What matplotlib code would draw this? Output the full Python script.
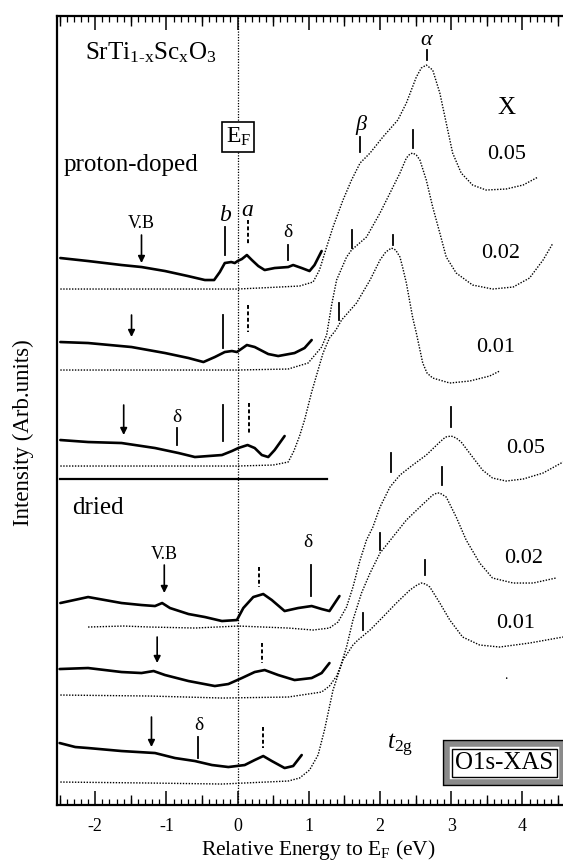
import numpy as np
import matplotlib.pyplot as plt
from matplotlib.ticker import MultipleLocator

plt.rcParams['font.family'] = ['Liberation Serif', 'DejaVu Serif']
plt.rcParams['mathtext.fontset'] = 'custom'
plt.rcParams['mathtext.rm'] = 'Liberation Serif'
plt.rcParams['mathtext.it'] = 'Liberation Serif:italic'
plt.rcParams['axes.unicode_minus'] = False

# ---- proton-doped : valence band (solid) and O1s-XAS (dotted) ----
p05_vb_x = [-2.49, -2.10, -1.63, -1.35, -1.02, -0.70, -0.46, -0.33, -0.25, -0.18, -0.09, -0.04, 0.00,
            0.06, 0.13, 0.20, 0.29, 0.38, 0.52, 0.71, 0.78, 0.90, 1.01, 1.08, 1.18]
p05_vb_y = [6.08, 6.05, 6.01, 5.99, 5.95, 5.90, 5.86, 5.86, 5.94, 6.03, 6.04, 6.03, 6.05,
            6.07, 6.11, 6.06, 6.00, 5.96, 5.98, 5.99, 6.01, 5.98, 5.95, 6.01, 6.15]
p05_xas_x = [-2.49, -1.5, -0.5, 0.0, 0.30, 0.59, 0.87, 1.06, 1.15, 1.25, 1.34, 1.48, 1.60, 1.72, 1.86,
             2.04, 2.25, 2.37, 2.51, 2.58, 2.65, 2.74, 2.84, 2.93, 3.02, 3.14, 3.30, 3.49, 3.77, 4.01, 4.22]
p05_xas_y = [5.77, 5.77, 5.77, 5.77, 5.78, 5.79, 5.80, 5.84, 5.96, 6.19, 6.39, 6.66, 6.86, 7.03, 7.13,
             7.29, 7.46, 7.63, 7.89, 7.98, 8.01, 7.96, 7.73, 7.43, 7.13, 6.93, 6.81, 6.76, 6.77, 6.81, 6.89]

p02_vb_x = [-2.49, -2.10, -1.49, -1.02, -0.69, -0.48, -0.32, -0.18, -0.08, -0.01, 0.13, 0.24, 0.43,
            0.57, 0.80, 0.94, 1.04]
p02_vb_y = [5.24, 5.23, 5.19, 5.13, 5.08, 5.04, 5.09, 5.14, 5.15, 5.14, 5.21, 5.19, 5.12,
            5.10, 5.13, 5.18, 5.26]
p02_xas_x = [-2.49, -1.0, 0.0, 0.71, 0.99, 1.18, 1.25, 1.32, 1.39, 1.53, 1.60, 1.81, 2.00, 2.14, 2.28,
             2.37, 2.42, 2.46, 2.51, 2.56, 2.65, 2.74, 2.84, 2.93, 3.07, 3.30, 3.58, 3.87, 4.10, 4.29, 4.43]
p02_xas_y = [4.96, 4.96, 4.96, 4.97, 5.03, 5.19, 5.31, 5.61, 5.86, 6.09, 6.16, 6.29, 6.53, 6.73, 6.93,
             7.08, 7.12, 7.13, 7.11, 7.06, 6.86, 6.59, 6.33, 6.09, 5.93, 5.81, 5.77, 5.79, 5.88, 6.06, 6.23]

p01_vb_x = [-2.49, -2.10, -1.63, -1.16, -0.83, -0.60, -0.22, -0.08, 0.01, 0.14, 0.24, 0.34, 0.43, 0.52, 0.66]
p01_vb_y = [4.26, 4.24, 4.23, 4.18, 4.13, 4.09, 4.11, 4.15, 4.18, 4.21, 4.18, 4.11, 4.09, 4.16, 4.30]
p01_xas_x = [-2.49, -1.0, 0.0, 0.50, 0.71, 0.79, 0.87, 0.94, 1.04, 1.13, 1.20, 1.29, 1.38, 1.46, 1.67,
             1.86, 2.00, 2.08, 2.16, 2.22, 2.28, 2.32, 2.37, 2.46, 2.51, 2.60, 2.66, 2.74, 2.98, 3.26,
             3.54, 3.68]
p01_xas_y = [4.00, 4.00, 4.00, 4.01, 4.04, 4.15, 4.30, 4.46, 4.74, 4.96, 5.13, 5.28, 5.36, 5.46, 5.63,
             5.86, 6.06, 6.14, 6.18, 6.16, 6.09, 5.98, 5.83, 5.48, 5.33, 5.03, 4.93, 4.88, 4.83, 4.85,
             4.90, 4.95]

# ---- dried ----
d05_vb_x = [-2.49, -2.10, -1.63, -1.35, -1.16, -1.06, -0.95, -0.69, -0.46, -0.22, -0.01, 0.08, 0.22,
            0.36, 0.48, 0.66, 0.85, 1.04, 1.18, 1.29, 1.43]
d05_vb_y = [2.63, 2.69, 2.63, 2.61, 2.60, 2.63, 2.58, 2.52, 2.49, 2.45, 2.46, 2.58, 2.69,
            2.72, 2.66, 2.55, 2.58, 2.60, 2.57, 2.55, 2.70]
d05_xas_x = [-2.10, -1.6, -1.23, -0.6, 0.01, 0.71, 1.06, 1.29, 1.41, 1.53, 1.62, 1.72, 1.81, 1.90, 2.00,
             2.14, 2.28, 2.46, 2.65, 2.84, 2.92, 3.00, 3.07, 3.14, 3.30, 3.44, 3.58, 3.77, 4.01, 4.29, 4.57]
d05_xas_y = [2.39, 2.40, 2.39, 2.38, 2.40, 2.38, 2.36, 2.38, 2.44, 2.59, 2.79, 3.06, 3.26, 3.39, 3.59,
             3.79, 3.91, 4.01, 4.11, 4.24, 4.29, 4.30, 4.28, 4.24, 4.09, 3.96, 3.88, 3.85, 3.87, 3.93, 4.04]

d02_vb_x = [-2.50, -2.10, -1.63, -1.35, -1.18, -1.02, -0.69, -0.32, -0.13, 0.06, 0.24, 0.38, 0.57,
            0.80, 1.04, 1.18, 1.29]
d02_vb_y = [1.97, 1.98, 1.94, 1.93, 1.95, 1.91, 1.85, 1.80, 1.82, 1.88, 1.94, 1.96, 1.91,
            1.86, 1.88, 1.93, 2.03]
d02_xas_x = [-2.49, -1.23, -0.22, 0.71, 1.18, 1.29, 1.39, 1.45, 1.53, 1.62, 1.74, 1.86, 2.00, 2.18,
             2.37, 2.56, 2.74, 2.80, 2.84, 2.93, 3.07, 3.21, 3.40, 3.58, 3.87, 4.15, 4.47]
d02_xas_y = [1.71, 1.70, 1.68, 1.69, 1.74, 1.80, 1.90, 2.01, 2.19, 2.46, 2.73, 2.93, 3.13, 3.29,
             3.46, 3.59, 3.71, 3.73, 3.73, 3.69, 3.49, 3.26, 3.03, 2.88, 2.83, 2.83, 2.88]

d01_vb_x = [-2.50, -2.28, -2.10, -1.63, -1.16, -0.88, -0.60, -0.36, -0.13, 0.10, 0.24, 0.36, 0.48,
            0.66, 0.78, 0.90]
d01_vb_y = [1.23, 1.19, 1.18, 1.15, 1.13, 1.08, 1.05, 1.01, 0.99, 1.01, 1.06, 1.10, 1.05,
            0.98, 1.00, 1.11]
d01_xas_x = [-2.49, -1.23, -0.22, 0.71, 0.87, 1.01, 1.13, 1.22, 1.34, 1.48, 1.62, 1.69, 1.86, 2.04,
             2.23, 2.42, 2.52, 2.58, 2.64, 2.70, 2.84, 2.98, 3.16, 3.40, 3.68, 4.10, 4.57]
d01_xas_y = [0.84, 0.83, 0.82, 0.85, 0.88, 0.96, 1.11, 1.36, 1.76, 2.06, 2.21, 2.26, 2.36, 2.49,
             2.63, 2.76, 2.81, 2.83, 2.82, 2.79, 2.63, 2.46, 2.29, 2.21, 2.19, 2.23, 2.29]

vb_curves = [(p05_vb_x, p05_vb_y), (p02_vb_x, p02_vb_y), (p01_vb_x, p01_vb_y),
             (d05_vb_x, d05_vb_y), (d02_vb_x, d02_vb_y), (d01_vb_x, d01_vb_y)]
xas_curves = [(p05_xas_x, p05_xas_y), (p02_xas_x, p02_xas_y), (p01_xas_x, p01_xas_y),
              (d05_xas_x, d05_xas_y), (d02_xas_x, d02_xas_y), (d01_xas_x, d01_xas_y)]

# marker positions (x, y_top, y_bottom)
solid_marks = [(-0.18, 6.39, 6.11), (0.71, 6.21, 6.06), (1.72, 7.29, 7.14), (2.66, 8.16, 8.06),
               (-0.21, 5.51, 5.18), (1.60, 6.36, 6.18), (2.46, 7.36, 7.18),
               (-0.85, 4.38, 4.21), (-0.21, 4.61, 4.25), (1.43, 5.63, 5.46), (2.18, 6.31, 6.21),
               (1.03, 3.01, 2.70), (2.16, 4.13, 3.94), (2.99, 4.59, 4.39),
               (2.00, 3.33, 3.16), (2.87, 3.99, 3.81),
               (-0.55, 1.29, 1.08), (1.76, 2.53, 2.36), (2.63, 3.06, 2.91)]
dashed_marks = [(0.14, 6.46, 6.21), (0.14, 5.61, 5.34), (0.16, 4.63, 4.31),
                (0.30, 2.99, 2.79), (0.34, 2.23, 2.03), (0.35, 1.39, 1.18)]
arrows = [(-1.35, 6.31, 6.03), (-1.49, 5.51, 5.29), (-1.60, 4.61, 4.31),
          (-1.03, 3.01, 2.73), (-1.13, 2.29, 2.03), (-1.21, 1.49, 1.19)]
x_values = ['0.05', '0.02', '0.01', '0.05', '0.02', '0.01']
x_label_pos = [(3.78, 7.12), (3.70, 6.13), (3.63, 5.19), (4.05, 4.18), (4.01, 3.08), (3.91, 2.43)]

fig = plt.figure(figsize=(5.63, 8.66), dpi=100)
ax = fig.add_axes([0.1021, 0.0704, 0.8979, 0.9111])

ax.axvline(0, color='k', lw=0.9, ls=(0, (1, 1.2)))

for cx, cy in vb_curves:
    ax.plot(cx, cy, color='k', lw=1.9, solid_capstyle='round', solid_joinstyle='round')
for cx, cy in xas_curves:
    ax.plot(cx, cy, color='k', lw=1.0, ls=(0, (1, 1.1)))

for mx, y0, y1 in solid_marks:
    ax.plot([mx, mx], [y0, y1], color='k', lw=1.3)
for mx, y0, y1 in dashed_marks:
    ax.plot([mx, mx], [y0, y1], color='k', lw=1.4, ls=(0, (2, 1.3)))
for mx, y0, y1 in arrows:
    ax.annotate('', xy=(mx, y1), xytext=(mx, y0),
                arrowprops=dict(arrowstyle='-|>', color='k', lw=1.2, mutation_scale=10,
                                shrinkA=0, shrinkB=0))

# separator between proton-doped and dried
ax.plot([-2.49, 1.25], [3.87, 3.87], color='k', lw=1.6)

for s, (tx, ty) in zip(x_values, x_label_pos):
    ax.text(tx, ty, s, ha='center', va='center', fontsize=16)
ax.text(3.77, 7.58, 'X', ha='center', va='center', fontsize=18)

ax.text(-2.14, 8.13, r'SrTi$_{\rm 1\text{-}x}$Sc$_{\rm x}$O$_{\rm 3}$', ha='left', va='center', fontsize=18)
ax.text(-2.44, 7.01, 'proton-doped', ha='left', va='center', fontsize=18)
ax.text(-2.33, 3.58, 'dried', ha='left', va='center', fontsize=18)
ax.text(0.01, 7.29, r'E$_{\rm F}$', ha='center', va='center', fontsize=17,
        bbox=dict(boxstyle='square,pad=0.15', fc='white', ec='k', lw=1.2))

ax.text(-1.35, 6.43, 'V.B', ha='center', va='center', fontsize=13)
ax.text(-1.03, 3.12, 'V.B', ha='center', va='center', fontsize=13)
ax.text(-0.17, 6.51, 'b', ha='center', va='center', fontsize=17, style='italic')
ax.text(0.14, 6.56, 'a', ha='center', va='center', fontsize=17, style='italic')
ax.text(1.74, 7.41, r'$\beta$', ha='center', va='center', fontsize=16)
ax.text(2.66, 8.26, r'$\alpha$', ha='center', va='center', fontsize=16)
for dx, dy in [(0.71, 6.34), (-0.85, 4.49), (0.98, 3.24), (-0.54, 1.41)]:
    ax.text(dx, dy, 'δ', ha='center', va='center', fontsize=14)
ax.text(3.76, 1.91, '.', ha='center', va='center', fontsize=10)
ax.text(2.28, 1.21, r'$t$$_{\rm 2g}$', ha='center', va='center', fontsize=18)

# O1s-XAS double framed box
for lw, ec, pad in [(6, 'k', 0.32), (4, '#8a8a8a', 0.32), (1.0, 'k', 0.12)]:
    ax.text(3.75, 1.03, 'O1s-XAS', ha='center', va='center', fontsize=18,
            color='k' if pad < 0.2 else 'none',
            bbox=dict(boxstyle='square,pad=%s' % pad, fc='white', ec=ec, lw=lw))

ax.set_xlim(-2.53, 4.57)
ax.set_ylim(0.61, 8.50)
ax.set_yticks([])
ax.xaxis.set_major_locator(MultipleLocator(1))
ax.xaxis.set_minor_locator(MultipleLocator(0.1))
ax.tick_params(axis='x', which='major', direction='in', length=10, width=1.1, top=True,
               labelsize=13, pad=9)
ax.tick_params(axis='x', which='minor', direction='in', length=4.5, width=0.9, top=True)
for side in ['bottom', 'top']:
    sec = ax.secondary_xaxis(side)
    sec.set_xticks(np.arange(-2.5, 4.6, 1.0))
    sec.tick_params(direction='in', length=7, width=1.0, labelbottom=False, labeltop=False)
    for sp in sec.spines.values():
        sp.set_visible(False)
ax.spines['right'].set_visible(False)
for sp in ['left', 'top', 'bottom']:
    ax.spines[sp].set_linewidth(1.6)

fig.text(318 / 563, 1 - 850 / 866, r'Relative Energy to E$_{\rm F}$ (eV)', ha='center', va='center',
         fontsize=15.5)
fig.text(23 / 563, 1 - 433 / 866, 'Intensity (Arb.units)', rotation=90, ha='center', va='center',
         fontsize=16.5)

fig.savefig('out.png', dpi=100)
